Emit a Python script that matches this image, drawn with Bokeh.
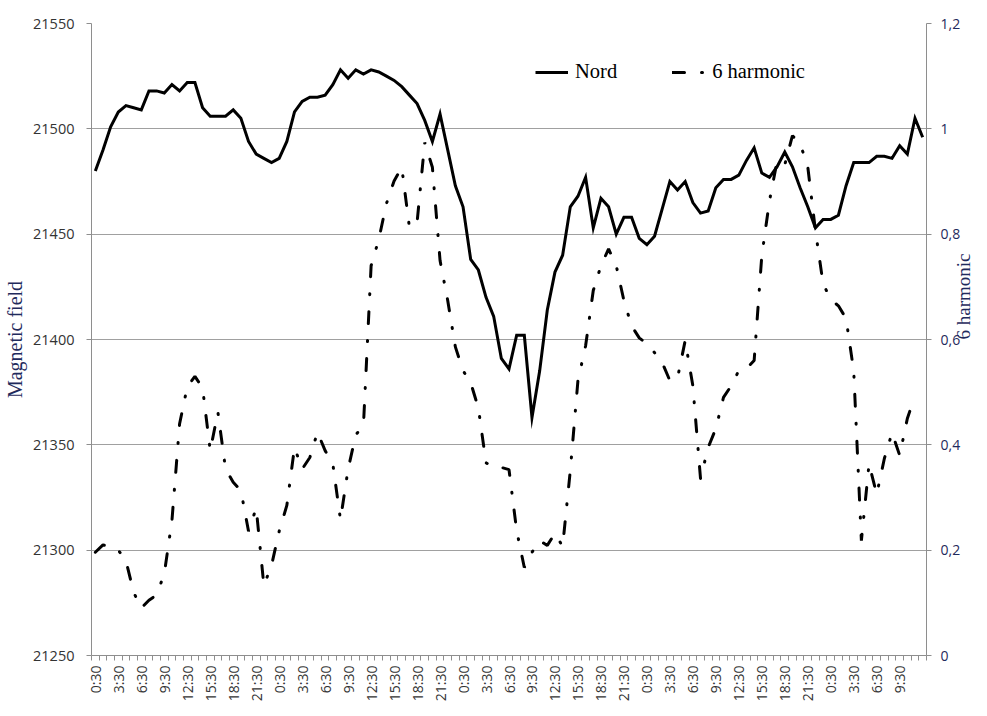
import math
from bokeh.plotting import figure
from bokeh.models import (Range1d, LinearAxis, FixedTicker, Legend, LegendItem,
                          CustomJSTickFormatter)
from bokeh.embed import file_html
from bokeh.resources import INLINE

# ---- data (hourly samples) ----
nord = [21480, 21490, 21501, 21508, 21511, 21510, 21509, 21518, 21518, 21517,
        21521, 21518, 21522, 21522, 21510, 21506, 21506, 21506, 21509, 21505,
        21494, 21488, 21486, 21484, 21486, 21494, 21508, 21513, 21515, 21515,
        21516, 21521, 21528, 21524, 21528, 21526, 21528, 21527, 21525, 21523,
        21520, 21516, 21512, 21504, 21494, 21507, 21490, 21473, 21463, 21438,
        21433, 21420, 21411, 21391, 21386, 21402, 21402, 21363, 21385, 21414,
        21432, 21440, 21463, 21468, 21477, 21453, 21467, 21463, 21450, 21458,
        21458, 21448, 21445, 21449, 21462, 21475, 21471, 21475, 21465, 21460,
        21461, 21472, 21476, 21476, 21478, 21485, 21491, 21479, 21477, 21482,
        21489, 21482, 21472, 21463, 21453, 21457, 21457, 21459, 21473, 21484,
        21484, 21484, 21487, 21487, 21486, 21492, 21488, 21505, 21496]

harmonic6 = [0.196, 0.21, 0.207, 0.2, 0.18, 0.12, 0.09, 0.105, 0.115, 0.155,
             0.256, 0.44, 0.51, 0.53, 0.508, 0.389, 0.462, 0.354, 0.329, 0.313,
             0.236, 0.28, 0.133, 0.171, 0.236, 0.285, 0.395, 0.354, 0.376, 0.424,
             0.389, 0.364, 0.258, 0.354, 0.419, 0.437, 0.74, 0.79, 0.858, 0.901,
             0.927, 0.813, 0.822, 0.974, 0.927, 0.75, 0.674, 0.586, 0.541, 0.518,
             0.47, 0.366, 0.357, 0.357, 0.353, 0.237, 0.167, 0.196, 0.218, 0.209,
             0.232, 0.207, 0.351, 0.522, 0.588, 0.693, 0.74, 0.772, 0.74, 0.674,
             0.626, 0.603, 0.592, 0.575, 0.556, 0.522, 0.527, 0.598, 0.512, 0.336,
             0.395, 0.431, 0.49, 0.512, 0.541, 0.545, 0.56, 0.759, 0.863, 0.939,
             0.932, 0.987, 0.972, 0.928, 0.807, 0.706, 0.676, 0.664, 0.64, 0.54,
             0.218, 0.364, 0.306, 0.374, 0.423, 0.38, 0.45, 0.493]

tick_labels = ["0:30", "3:30", "6:30", "9:30", "12:30", "15:30", "18:30", "21:30",
               "0:30", "3:30", "6:30", "9:30", "12:30", "15:30", "18:30", "21:30",
               "0:30", "3:30", "6:30", "9:30", "12:30", "15:30", "18:30", "21:30",
               "0:30", "3:30", "6:30", "9:30", "12:30", "15:30", "18:30", "21:30",
               "0:30", "3:30", "6:30", "9:30"]
label_step = 3

left_ticks = [21250, 21300, 21350, 21400, 21450, 21500, 21550]
right_ticks = [0, 0.2, 0.4, 0.6, 0.8, 1.0, 1.2]

series_names = ["Nord", "6 harmonic"]
left_title = "Magnetic field"
right_title = "6 harmonic"

# ---- styling ----
GRAY = "#a0a0a0"
AXIS_GRAY = "#8e8e8e"
NAVY = "#1f2a5c"
TICK_FONT = "Open Sans"
SERIF = "Liberation Serif"

n = len(nord)
x_nord = list(range(n))
x_h = list(range(len(harmonic6)))

p = figure(width=987, height=716, output_backend="svg", toolbar_location=None,
           x_range=Range1d(-0.5, n - 0.5),
           y_range=Range1d(left_ticks[0], left_ticks[-1]),
           min_border_left=91, min_border_right=60,
           min_border_top=23, min_border_bottom=61)
p.extra_y_ranges = {"h": Range1d(right_ticks[0], right_ticks[-1])}
p.outline_line_color = None
p.background_fill_color = "white"
p.border_fill_color = "white"

# grid
p.xgrid.visible = False
p.ygrid.ticker = FixedTicker(ticks=left_ticks)
p.ygrid.grid_line_color = GRAY
p.ygrid.grid_line_width = 1

# x axis
xa = p.xaxis[0]
tick_pos = [label_step * k for k in range(len(tick_labels))]
xa.ticker = FixedTicker(ticks=tick_pos, minor_ticks=[i - 0.5 for i in range(n + 1)])
xa.major_label_overrides = {pos: lab for pos, lab in zip(tick_pos, tick_labels)}
xa.major_label_orientation = math.pi / 2
xa.major_tick_out = 0
xa.major_tick_in = 0
xa.minor_tick_out = 5
xa.minor_tick_in = 0
xa.minor_tick_line_color = AXIS_GRAY
xa.axis_line_color = AXIS_GRAY
xa.major_label_standoff = 5
xa.major_label_text_font = TICK_FONT
xa.major_label_text_font_size = "14px"
xa.major_label_text_color = "#333333"

# left axis
ya = p.yaxis[0]
ya.ticker = FixedTicker(ticks=left_ticks)
ya.major_tick_out = 5
ya.major_tick_in = 0
ya.minor_tick_out = 0
ya.minor_tick_in = 0
ya.axis_line_color = AXIS_GRAY
ya.major_tick_line_color = AXIS_GRAY
ya.major_label_standoff = 12
ya.major_label_text_font = TICK_FONT
ya.major_label_text_font_size = "14.5px"
ya.major_label_text_color = "#333333"
ya.axis_label = left_title
ya.axis_label_text_font = SERIF
ya.axis_label_text_font_style = "normal"
ya.axis_label_text_font_size = "20px"
ya.axis_label_text_color = NAVY
ya.axis_label_standoff = 4

# right axis
ra = LinearAxis(y_range_name="h")
ra.ticker = FixedTicker(ticks=right_ticks)
ra.formatter = CustomJSTickFormatter(
    code="var s = (Math.round(tick*10)/10).toString(); return s.replace('.', ',');")
ra.major_tick_out = 5
ra.major_tick_in = 0
ra.minor_tick_out = 0
ra.minor_tick_in = 0
ra.axis_line_color = AXIS_GRAY
ra.major_tick_line_color = AXIS_GRAY
ra.major_label_standoff = 9
ra.major_label_text_font = TICK_FONT
ra.major_label_text_font_size = "14px"
ra.major_label_text_color = NAVY
ra.axis_label = right_title
ra.axis_label_text_font = SERIF
ra.axis_label_text_font_style = "normal"
ra.axis_label_text_font_size = "19px"
ra.axis_label_text_color = NAVY
ra.axis_label_standoff = 0
if "axis_label_orientation" in ra.properties():
    ra.axis_label_orientation = math.pi / 2
p.add_layout(ra, "right")

# series
r1 = p.line(x_nord, nord, line_width=3, line_color="black", line_join="miter")
r2 = p.line(x_h, harmonic6, y_range_name="h", line_width=3, line_color="black",
            line_dash="12 17 1 17", line_cap="round")

legend = Legend(items=[LegendItem(label=series_names[0], renderers=[r1]),
                       LegendItem(label=series_names[1], renderers=[r2])],
                orientation="horizontal", location=(444, 572),
                padding=0, margin=0, spacing=55,
                glyph_width=33, glyph_height=20, label_height=20,
                label_standoff=7, label_text_font=SERIF,
                label_text_font_size="20.5px", label_text_color="black",
                border_line_color=None, background_fill_alpha=0)
p.add_layout(legend)

open("out.html", "w").write(file_html(p, INLINE))
